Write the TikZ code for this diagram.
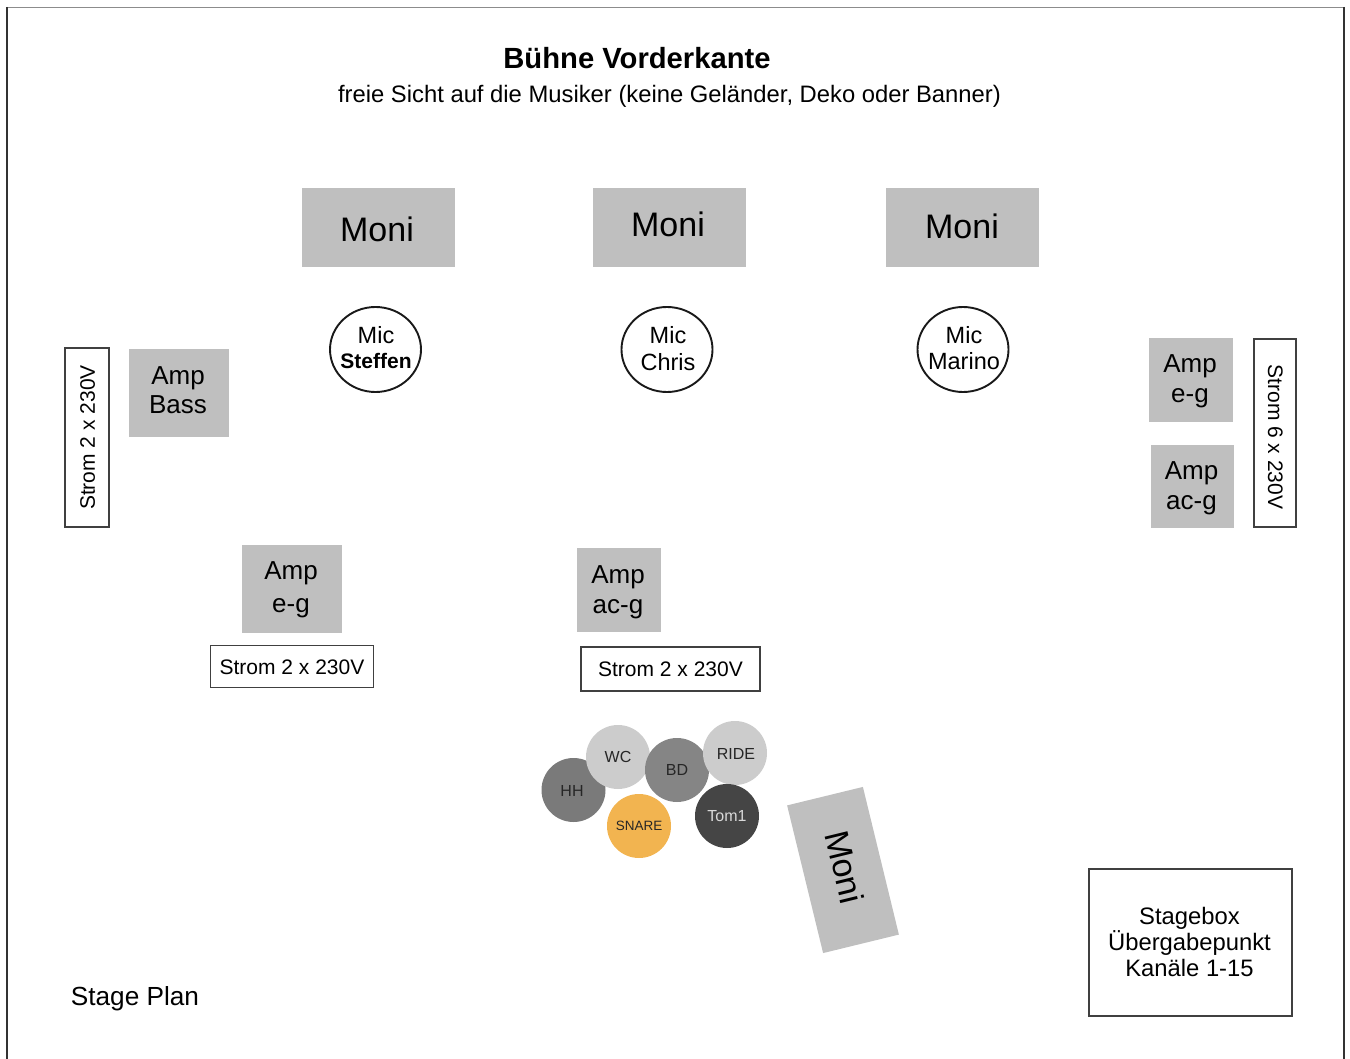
\documentclass[tikz,border=0pt]{standalone}
\usepackage{fontspec}
\setmainfont{Liberation Sans}
\usepackage{tikz}
\usetikzlibrary{positioning}
\usetikzlibrary{shapes.geometric}
\newcommand{\txtsize}[2]{\fontsize{#1}{#2}\selectfont}
\newcommand{\versatz}[3]{\hspace*{#1}\raisebox{#2}[\height][\depth]{\begin{tabular}{@{}c@{}}#3\end{tabular}}}
\definecolor{snarecol}{HTML}{F2B450}
\tikzset{
	moni/.style={fill=black!25, inner sep=0pt, minimum width=153, minimum height=79, font=\txtsize{34}{36}},
	amp/.style={fill=black!25, inner sep=0pt, align=center, font=\txtsize{26}{30}},
	mic/.style={draw=black!90, ellipse, line width=1.9pt, inner xsep=-14pt, inner ysep=-10pt, minimum width=91, minimum height=85, align=center, font=\txtsize{23.5}{26}},
	strom/.style={draw=black!75, line width=1.2pt, inner sep=0pt, font=\txtsize{21}{24}},
	drum/.style={circle, fill=#1, inner sep=0pt, minimum size=64, text=black!85, font=\txtsize{16}{18}}
}

\begin{document}
\begin{tikzpicture}[x=1pt, y=-1pt, node distance = 12pt]
			\useasboundingbox (0,0) rectangle (1350,1059);
			% Rahmen
			\draw[black!45, line width=1.2pt] (6,7.5) -- (1344,7.5);
			\draw[black!80, line width=2pt] (6.5,7) -- (6.5,1059);
			\draw[black!80, line width=2pt] (1344,7) -- (1344,1059);
			% Titel
			\node[font=\bfseries\txtsize{29.2}{32}] (Titel) at (637,58) {Bühne Vorderkante};
			\node[font=\txtsize{23.8}{26}] (Sicht) at (669.5,96.5) {freie Sicht auf die Musiker (keine Geländer, Deko oder Banner)};
			% Monitore
			\node[moni] (MoniSteffen) at (378.5,227.5) {\versatz{-3pt}{-6.5pt}{Moni}};
			\node[moni] (MoniChris) at (669,227.5) {\versatz{-2pt}{-1.5pt}{Moni}};
			\node[moni] (MoniMarino) at (962,227.5) {\versatz{0pt}{-3.5pt}{Moni}};
			\node[moni, minimum width=152, minimum height=78, rotate=-76.3] (MoniDrums) at (843,870) {\raisebox{2.5pt}[\height][\depth]{Moni}\hspace*{5pt}};
			% Mikros
			\node[mic] (MicSteffen) at (375.5,349.5) {\versatz{1pt}{-1pt}{Mic\\[-1pt]{\bfseries\txtsize{21}{24}Steffen}}};
			\node[mic] (MicChris) at (667,349.5) {\versatz{2pt}{-2.5pt}{Mic\\[1pt]Chris}};
			\node[mic] (MicMarino) at (963,349.5) {\versatz{2pt}{-2pt}{Mic\\Marino}};
			% Amps
			\node[amp, minimum width=100, minimum height=88] (AmpBass) at (179,393) {\versatz{-2pt}{0pt}{Amp\\[-1pt]Bass}};
			\node[amp, minimum width=84, minimum height=84] (AmpEgRechts) at (1191,380) {\versatz{-2pt}{-2pt}{Amp\\e-g}};
			\node[amp, minimum width=83, minimum height=83] (AmpAcRechts) at (1192.5,486.5) {\versatz{-2pt}{-2pt}{Amp\\ac-g}};
			\node[amp, minimum width=100, minimum height=88] (AmpEg) at (292,589) {\versatz{-2pt}{-0.5pt}{Amp\\[3pt]e-g}};
			\node[amp, minimum width=84, minimum height=84] (AmpAc) at (619,590) {\versatz{-2pt}{-2pt}{Amp\\ac-g}};
			% Strom
			\node[strom, rotate=90, minimum width=179, minimum height=44] (StromBass) at (87,437.5) {\versatz{0pt}{-3pt}{Strom 2 x 230V}};
			\node[strom, rotate=-90, minimum width=188, minimum height=42] (StromRechts) at (1275,433) {\versatz{8pt}{-2pt}{Strom 6 x 230V}};
			\node[strom, minimum width=163, minimum height=42, below=12pt of AmpEg] (StromEg) {\versatz{0pt}{-3pt}{Strom 2 x 230V}};
			\node[strom, minimum width=179, minimum height=44] (StromAc) at (670.5,669) {\versatz{0pt}{-3pt}{Strom 2 x 230V}};
			% Schlagzeug
			\node[drum=black!52] (HH) at (573.5,790) {\versatz{-3pt}{-3pt}{HH}};
			\node[drum=black!20] (WC) at (618,757) {WC};
			\node[drum=black!48] (BD) at (677,770) {BD};
			\node[drum=black!20] (RIDE) at (735,753) {\versatz{2pt}{-3pt}{RIDE}};
			\node[drum=black!73, text=black!15] (Tom) at (727,816) {Tom1};
			\node[drum=snarecol, font=\txtsize{13.5}{16}] (SNARE) at (639,826) {SNARE};
			% Stagebox
			\node[strom, minimum width=203, minimum height=147, align=center, font=\txtsize{23.8}{26}] (Stagebox) at (1190.5,942.5) {\versatz{-2pt}{-3pt}{Stagebox\\[-2pt]Übergabepunkt\\Kanäle 1-15}};
			\node[font=\txtsize{26.2}{28}] (StagePlan) at (135,998.5) {Stage Plan};
		\end{tikzpicture}
\end{document}
